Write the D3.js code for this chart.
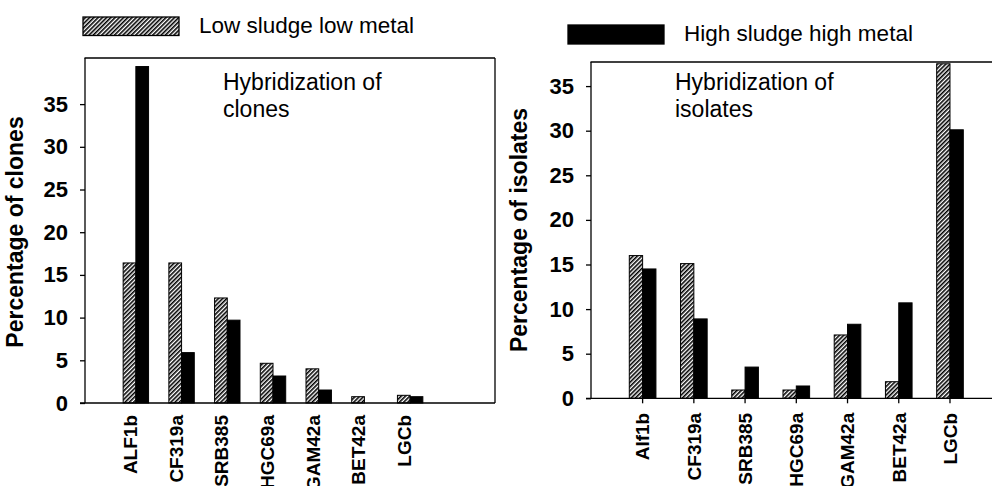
<!DOCTYPE html>
<html>
<head>
<meta charset="utf-8">
<script src="https://cdn.jsdelivr.net/npm/d3@7"></script>
<style>
  body { margin: 0; background: #fff; }
  svg { display: block; font-family: "Liberation Sans", Arial, sans-serif; }
  .axis path, .axis line { stroke: #000; stroke-width: 1.3; }
  .axis text { fill: #000; font-weight: bold; }
</style>
</head>
<body>
<svg width="992" height="486"></svg>
<script>
// values
var seriesNames = ["Low sludge low metal", "High sludge high metal"];
var clonesCategories = ["ALF1b", "CF319a", "SRB385", "HGC69a", "GAM42a", "BET42a", "LGCb"];
var clonesLow = [16.4, 16.4, 12.3, 4.65, 4.0, 0.74, 0.9];
var clonesHigh = [39.4, 5.9, 9.7, 3.16, 1.52, 0, 0.74];
var isolatesCategories = ["Alf1b", "CF319a", "SRB385", "HGC69a", "GAM42a", "BET42a", "LGCb"];
var isolatesLow = [16.0, 15.1, 0.93, 0.93, 7.1, 1.86, 37.5];
var isolatesHigh = [14.5, 8.9, 3.5, 1.38, 8.3, 10.7, 30.1];
var yTicks = [0, 5, 10, 15, 20, 25, 30, 35];

(function () {
    var svg = d3.select("svg");

    // diagonal hatch for the low sludge series
    var defs = svg.append("defs");
    defs.append("pattern")
        .attr("id", "hatch")
        .attr("patternUnits", "userSpaceOnUse")
        .attr("width", 3)
        .attr("height", 3)
        .attr("patternTransform", "rotate(45)")
        .call(function (p) {
            p.append("rect").attr("width", 3).attr("height", 3).attr("fill", "#fff");
            p.append("line").attr("x1", 0.8).attr("y1", 0).attr("x2", 0.8).attr("y2", 3)
                .attr("stroke", "#000").attr("stroke-width", 1.6);
        });

    var fills = ["url(#hatch)", "#000"];

    function panel(opt) {
        var y = d3.scaleLinear().domain([0, opt.yMax]).range([opt.zero, opt.top]);
        var x = d3.scaleBand().domain(opt.categories).range(opt.band)
            .paddingInner(opt.pad).paddingOuter(opt.pad / 2);
        var x1 = d3.scaleBand().domain([0, 1]).range([0, x.bandwidth()]);

        var rows = opt.categories.map(function (c, i) {
            return { cat: c, values: [opt.low[i], opt.high[i]] };
        });

        var g = svg.append("g");

        g.selectAll(".grp")
            .data(rows)
            .enter().append("g")
            .attr("class", "grp")
            .attr("transform", function (d) { return "translate(" + x(d.cat) + ",0)"; })
            .selectAll("rect")
            .data(function (d) { return d.values; })
            .enter().filter(function (v) { return v > 0; }).append("rect")
            .attr("x", function (v, i) { return x1(i); })
            .attr("y", function (v) { return y(v); })
            .attr("width", x1.bandwidth())
            .attr("height", function (v) { return opt.zero - y(v); })
            .attr("fill", function (v, i) { return fills[i]; })
            .attr("stroke", "#000")
            .attr("stroke-width", 1);

        // frame
        g.append("line")
            .attr("x1", opt.left - 0.5).attr("x2", opt.right)
            .attr("y1", opt.top).attr("y2", opt.top)
            .attr("stroke", "#000").attr("stroke-width", 1.3);
        if (opt.rightLine) {
            g.append("line")
                .attr("x1", opt.right).attr("x2", opt.right)
                .attr("y1", opt.top).attr("y2", opt.zero)
                .attr("stroke", "#000").attr("stroke-width", 1.3);
        }

        var ya = g.append("g")
            .attr("class", "axis")
            .attr("transform", "translate(" + opt.left + ",0)")
            .call(d3.axisLeft(y).tickValues(yTicks).tickSize(5).tickSizeOuter(0).tickPadding(12))
            .style("font-size", "22px");
        ya.select(".domain").attr("d", "M0," + opt.top + "V" + opt.zero);

        var xa = g.append("g")
            .attr("class", "axis")
            .attr("transform", "translate(0," + opt.zero + ")")
            .call(d3.axisBottom(x).tickSize(opt.xTick).tickSizeOuter(0))
            .style("font-size", "19px");
        xa.select(".domain").attr("d", "M" + (opt.left - 5) + ",0H" + opt.right);
        xa.selectAll(".tick text")
            .attr("transform", "rotate(-90)")
            .attr("text-anchor", "end")
            .attr("x", -opt.labelGap)
            .attr("y", 0)
            .attr("dy", opt.labelDy);

        g.append("text")
            .attr("transform", "translate(" + opt.titleX + "," + opt.titleY + ") rotate(-90)")
            .attr("text-anchor", "middle")
            .style("font-size", "23px")
            .style("font-weight", "bold")
            .text(opt.title);

        g.selectAll(".note")
            .data(opt.note)
            .enter().append("text")
            .attr("x", opt.noteX)
            .attr("y", function (d, i) { return 90 + i * 27; })
            .style("font-size", "23px")
            .text(function (d) { return d; });
    }

    panel({
        categories: clonesCategories, low: clonesLow, high: clonesHigh,
        yMax: 40.4, top: 58, zero: 403, left: 85, right: 495, rightLine: true,
        band: [113, 433], pad: 0.444, xTick: 0, labelGap: 12, labelDy: "0.05em",
        title: "Percentage of clones", titleX: 23, titleY: 232,
        note: ["Hybridization of", "clones"], noteX: 223
    });

    panel({
        categories: isolatesCategories, low: isolatesLow, high: isolatesHigh,
        yMax: 37.7, top: 62, zero: 398.3, left: 591, right: 1000, rightLine: false,
        band: [617, 975.6], pad: 0.48, xTick: 5, labelGap: 14.5, labelDy: "0.36em",
        title: "Percentage of isolates", titleX: 527, titleY: 230,
        note: ["Hybridization of", "isolates"], noteX: 675
    });

    // legends, split above each panel
    var legend = [
        { name: seriesNames[0], fill: fills[0], x: 83, y: 17, h: 18.5, tx: 199, ty: 32.5 },
        { name: seriesNames[1], fill: fills[1], x: 568, y: 25, h: 19, tx: 684, ty: 40.7 }
    ];
    var lg = svg.selectAll(".legend").data(legend).enter().append("g").attr("class", "legend");
    lg.append("rect")
        .attr("x", function (d) { return d.x; })
        .attr("y", function (d) { return d.y; })
        .attr("width", 96)
        .attr("height", function (d) { return d.h; })
        .attr("fill", function (d) { return d.fill; })
        .attr("stroke", "#000").attr("stroke-width", 1.3);
    lg.append("text")
        .attr("x", function (d) { return d.tx; })
        .attr("y", function (d) { return d.ty; })
        .style("font-size", "22.5px")
        .text(function (d) { return d.name; });
}());
</script>
</body>
</html>
